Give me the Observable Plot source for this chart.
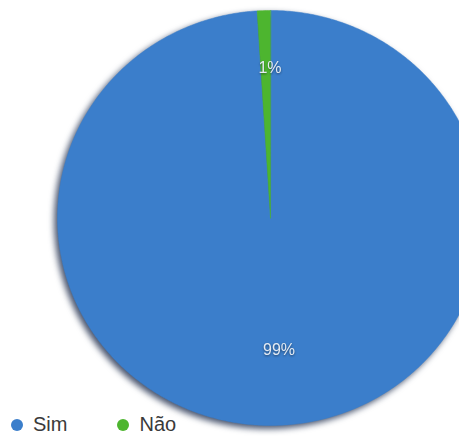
<!DOCTYPE html>
<html>
<head>
<meta charset="utf-8">
<script src="https://cdn.jsdelivr.net/npm/d3@7"></script>
<script src="https://cdn.jsdelivr.net/npm/@observablehq/plot@0.6"></script>
<style>
  html, body { margin: 0; padding: 0; background: #fff; }
  #wrap { position: relative; width: 459px; height: 436px; overflow: hidden; }
  .pie g[aria-label="line"] { filter: drop-shadow(-3px 3px 3px rgba(10,25,60,0.75)); }
  .pie g[aria-label="text"] { filter: drop-shadow(0px 1px 1px rgba(0,0,0,0.45)); }
  #legend { position: absolute; left: 11px; top: 413px; display: flex; align-items: center;
            font-family: "Liberation Sans", Arial, sans-serif; font-size: 20px; color: #3a3a3a; }
  .item { display: flex; align-items: center; margin-right: 50px; }
  .dot { width: 12px; height: 12px; border-radius: 50%; margin-right: 10px; }
</style>
</head>
<body>
<div id="wrap"></div>
<script>
const categories = ["Sim", "Não"];
const values = [99, 1];
const labels = ["99%", "1%"];
const colors = ["#3b7ecb", "#4db52f"];

const pie = d3.pie().sort(null).value(d => d.value)(
  categories.map((name, i) => ({name, value: values[i], label: labels[i]}))
);

// Sector outlines built from the pie angles (unit circle coordinates)
const pts = [];
for (const s of pie) {
  pts.push({name: s.data.name, x: 0, y: 0});
  const n = Math.max(2, Math.ceil((s.endAngle - s.startAngle) / 0.01));
  for (let k = 0; k <= n; k++) {
    const a = s.startAngle + (s.endAngle - s.startAngle) * k / n;
    pts.push({name: s.data.name, x: Math.sin(a), y: Math.cos(a)});
  }
}
const labelR = 0.68;
const labelData = pie.map(s => {
  const a = (s.startAngle + s.endAngle) / 2;
  return {name: s.data.name, label: s.data.label, x: labelR * Math.sin(a), y: labelR * Math.cos(a)};
});

const chart = Plot.plot({
  className: "pie",
  width: 459,
  height: 436,
  margin: 0,
  x: {domain: [-1, 1], range: [57, 483], axis: null},
  y: {domain: [-1, 1], range: [425, 10], axis: null},
  color: {domain: categories, range: colors},
  marks: [
    Plot.line(pts, {x: "x", y: "y", z: "name", fill: "name", stroke: "name", strokeWidth: 0.5, curve: "linear-closed"}),
    Plot.text(labelData, {x: "x", y: "y", text: "label", dy: -9, dx: 4, fill: "#e4ebf3",
      fontSize: 16, fontFamily: "Liberation Sans, Arial, sans-serif"})
  ]
});
document.getElementById("wrap").appendChild(chart);

const legend = document.createElement("div");
legend.id = "legend";
categories.forEach((c, i) => {
  const it = document.createElement("div");
  it.className = "item";
  const dot = document.createElement("span");
  dot.className = "dot";
  dot.style.background = colors[i];
  const t = document.createElement("span");
  t.textContent = c;
  it.appendChild(dot); it.appendChild(t);
  legend.appendChild(it);
});
document.getElementById("wrap").appendChild(legend);
</script>
</body>
</html>
